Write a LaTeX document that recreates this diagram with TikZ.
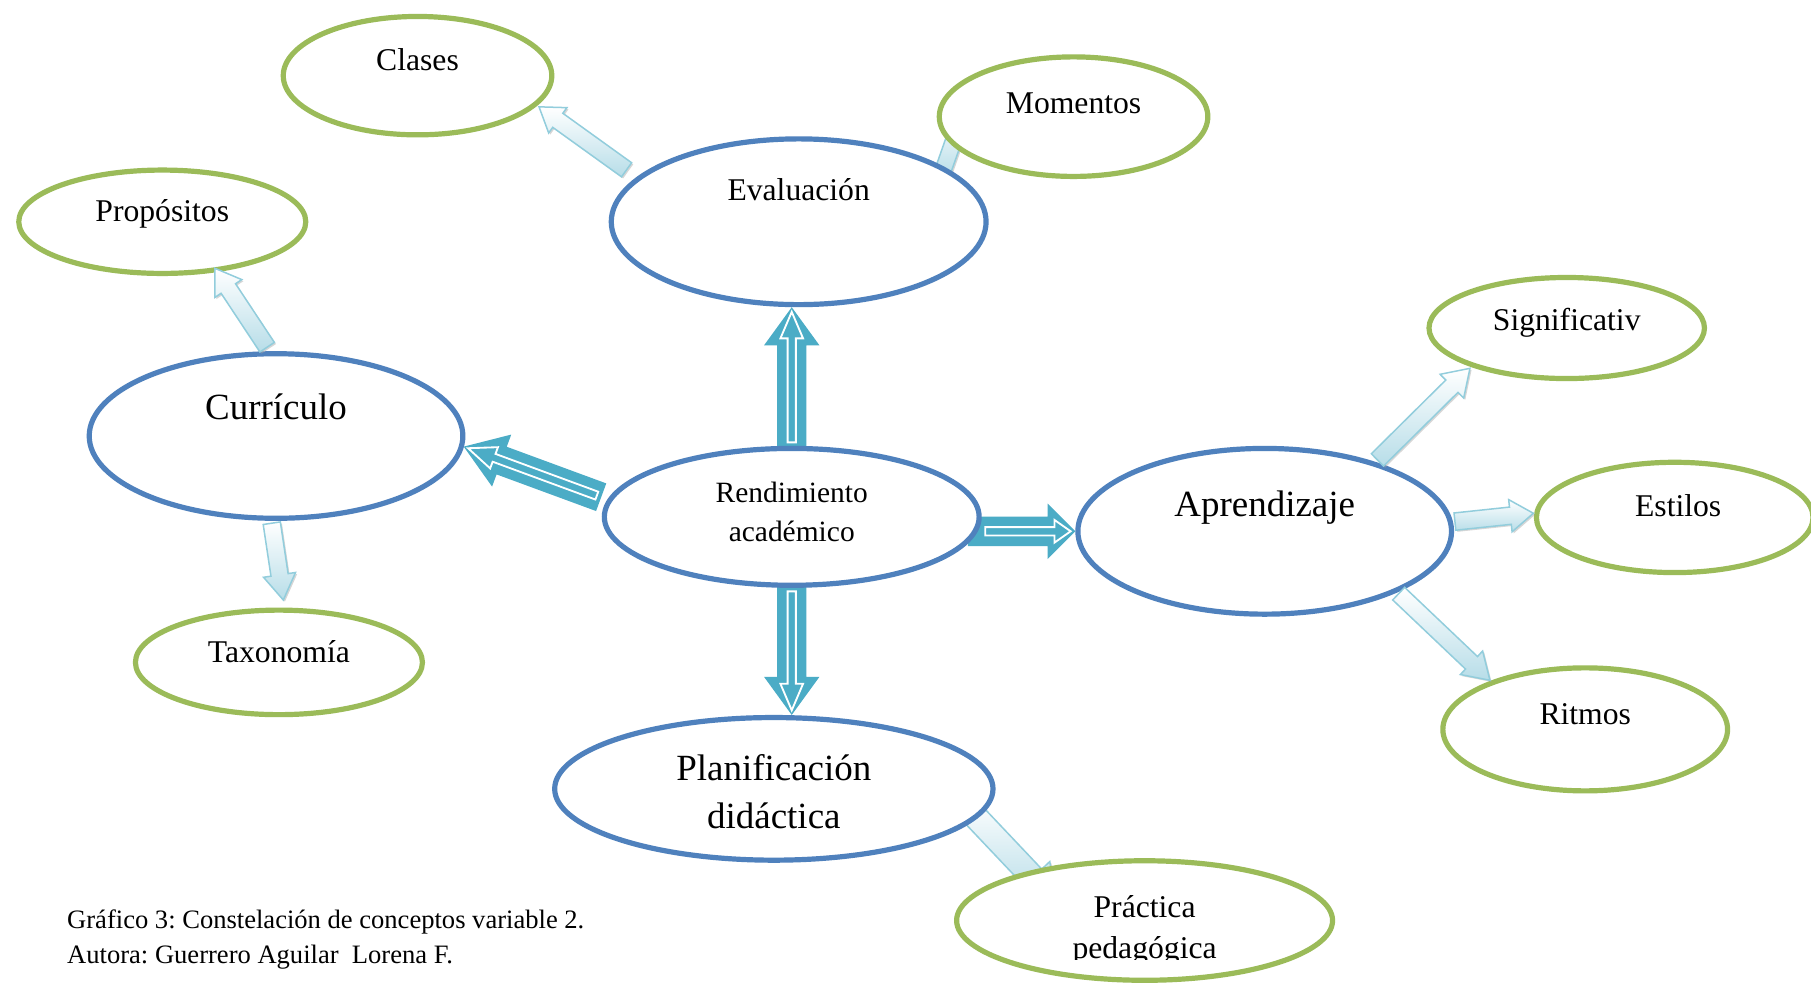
\documentclass[tikz,border=0pt]{standalone}
\usepackage{fontspec}
\setmainfont{Liberation Serif}
\frenchspacing
\usetikzlibrary{shapes.geometric,calc}
\definecolor{ringblue}{HTML}{4F81BD}
\definecolor{ringgreen}{HTML}{9BBB59}
\definecolor{boldteal}{HTML}{4BACC6}
\definecolor{paleedge}{HTML}{92CDDC}
\definecolor{palefill}{HTML}{B7DDE8}
\pgfdeclarelayer{paper}
\pgfdeclarelayer{back}
\pgfsetlayers{paper,back,main}

% block arrow: #1 style, #2 tail, #3 tip, #4 half shaft, #5 half head, #6 head length
\newcommand\arrowshape[6]{%
  \coordinate (as-t) at #2;
  \coordinate (as-p) at #3;
  \coordinate (as-b) at ($(as-p)!#6!(as-t)$);
  \path[#1] ($(as-t)!#4!90:(as-p)$) -- ($(as-b)!#4!-90:(as-t)$)
    -- ($(as-b)!#5!-90:(as-t)$) -- (as-p) -- ($(as-b)!#5!90:(as-t)$)
    -- ($(as-b)!#4!90:(as-t)$) -- ($(as-t)!#4!-90:(as-p)$) -- cycle;}

% bold teal arrow with a white outlined arrow inside
% #1 tail, #2 tip, #3 inset of inner tail, #4 head length, #5 inner head length
\newcommand\fatarrow[5]{%
  \coordinate (fa-t) at #1;
  \coordinate (fa-p) at #2;
  \arrowshape{fatbody}{(fa-t)}{(fa-p)}{12.75pt}{24pt}{#4}
  \arrowshape{fatline}{($(fa-t)!#3!(fa-p)$)}{($(fa-p)!4pt!(fa-t)$)}{3.6pt}{9.8pt}{#5}}

% pale shaded arrow with a soft grey shadow
% #1 tail, #2 tip, #3 half shaft, #4 half head, #5 head length
\newcommand\palearrow[5]{%
  \begin{scope}[transform canvas={shift={(1.4pt,-1.4pt)}}]
    \arrowshape{paleshadow}{#1}{#2}{#3}{#4}{#5}
  \end{scope}
  \arrowshape{palebody}{#1}{#2}{#3}{#4}{#5}}

\begin{document}
\begin{tikzpicture}[x=1pt,y=-1pt,
  bluering/.style={ellipse, draw=ringblue, line width=4.5pt, fill=white, inner sep=0pt},
  greenring/.style={ellipse, draw=ringgreen, line width=4.5pt, fill=white, inner sep=0pt},
  fatbody/.style={fill=boldteal},
  fatline/.style={draw=white, line width=1.6pt, line join=miter},
  palebody/.style={draw=paleedge, line width=1.3pt, top color=white, bottom color=palefill},
  paleshadow/.style={fill=gray!70, opacity=.45},
  smalltxt/.style={font=\fontsize{27.4}{33}\selectfont, anchor=base, inner sep=0pt},
  bigtxt/.style={font=\fontsize{32}{38}\selectfont, anchor=base, inner sep=0pt},
  midtxt/.style={font=\fontsize{25.5}{31}\selectfont, anchor=base, inner sep=0pt},
  captxt/.style={font=\fontsize{23}{28}\selectfont, anchor=base west, inner sep=0pt}]

\useasboundingbox (0,0) rectangle (1568,851);
\clip (0,0) rectangle (1568,851);
\begin{pgfonlayer}{paper}
  \fill[white] (0,0) rectangle (1568,851);
\end{pgfonlayer}

% concept rings
\node[greenring, minimum width=232.5pt, minimum height=102.5pt] (clases)     at (361.5,65.5) {};
\node[greenring, minimum width=232.5pt, minimum height=103.5pt] (momentos)   at (929.5,101) {};
\node[greenring, minimum width=248.5pt, minimum height=89.5pt]  (propositos) at (140.5,192) {};
\node[greenring, minimum width=238.5pt, minimum height=87.5pt]  (signif)     at (1356.5,284) {};
\node[greenring, minimum width=239.5pt, minimum height=95.5pt]  (estilos)    at (1450,448) {};
\node[greenring, minimum width=248.5pt, minimum height=90.5pt]  (taxo)       at (241.5,573.5) {};
\node[greenring, minimum width=246.5pt, minimum height=106.5pt] (ritmos)     at (1372.5,631.5) {};
\node[greenring, minimum width=325.5pt, minimum height=103.5pt] (practica)   at (991,797) {};

\node[bluering, minimum width=324.5pt, minimum height=143.5pt] (eval) at (691.5,192) {};
\node[bluering, minimum width=323.5pt, minimum height=142.5pt] (curr) at (239,377.5) {};
\node[bluering, minimum width=324.5pt, minimum height=118.5pt] (rend) at (685.5,447.5) {};
\node[bluering, minimum width=323.5pt, minimum height=143.5pt] (appr) at (1095,460) {};
\node[bluering, minimum width=379.5pt, minimum height=123.5pt] (plan) at (670,683) {};

% connectors lying under the rings
\begin{pgfonlayer}{back}
  \palearrow{($(eval)+(123.5,-40)$)}{($(momentos)+(-94.5,-6)$)}{7pt}{13pt}{20pt}
  \palearrow{($(plan)+(165,14)$)}{($(practica)+(-76,-15.5)$)}{10.5pt}{20pt}{30pt}
  \fatarrow{($(rend.north)+(0,8)$)}{(rend.north |- eval.south)}{11pt}{33pt}{23pt}
  \fatarrow{($(rend.south)+(0,-8)$)}{(rend.south |- plan.north)}{11pt}{33pt}{23pt}
  \fatarrow{($(rend)+(-165,-17)$)}{($(curr)+(162.5,9.2)$)}{4pt}{35pt}{24pt}
  \fatarrow{($(rend.east |- appr.west)+(-12,0)$)}{(appr.west)}{15pt}{24pt}{14pt}
\end{pgfonlayer}

% connectors lying over the rings
\palearrow{($(eval)+(-149,-45)$)}{($(clases)+(105.2,27)$)}{7.5pt}{13.5pt}{20pt}
\palearrow{($(curr)+(-7.7,-76.9)$)}{($(propositos)+(45.6,40.3)$)}{7.5pt}{14pt}{21pt}
\palearrow{($(curr)+(-3.7,75.5)$)}{($(taxo)+(3.8,-54)$)}{7.5pt}{14pt}{22pt}
\palearrow{($(appr)+(97.6,-61.8)$)}{($(signif)+(-83.8,34.9)$)}{7.5pt}{14.5pt}{22pt}
\palearrow{($(appr)+(164.7,-8.4)$)}{($(estilos)+(-122.4,-3.6)$)}{7.5pt}{14pt}{20pt}
\palearrow{($(appr)+(116,54)$)}{($(ritmos)+(-82.5,-42.5)$)}{7.5pt}{14pt}{22pt}

% labels
\node[smalltxt] (clases-t)     at (361.5,61)  {Clases};
\node[smalltxt] (momentos-t)   at (929.5,98)  {Momentos};
\node[smalltxt] (propositos-t) at (140.5,192) {Propósitos};
\node[smalltxt] (eval-t)       at (691.5,174) {Evaluación};
\node[smalltxt] (signif-t)     at (1356.5,286) {Significativ};
\node[smalltxt] (estilos-t)    at (1453,447)  {Estilos};
\node[smalltxt] (taxo-t)       at (241.5,574) {Taxonomía};
\node[smalltxt] (ritmos-t)     at (1372.5,627) {Ritmos};
\node[bigtxt]   (curr-t)       at (239,363.5) {Currículo};
\node[bigtxt]   (appr-t)       at (1095,447.5) {Aprendizaje};
\node[bigtxt]   (plan-t1)      at (670,675.5) {Planificación};
\node[bigtxt]   (plan-t2)      at (670,717.5) {didáctica};
\node[midtxt]   (rend-t1)      at (685.5,435.5) {Rendimiento};
\node[midtxt]   (rend-t2)      at (685.5,469) {académico};
\begin{scope}
  \clip (820,760) rectangle (1160,830.5);
  \node[smalltxt] (practica-t1) at (991,794) {Práctica};
  \node[smalltxt] (practica-t2) at (991,830) {pedagógica};
\end{scope}

% caption
\node[captxt] (cap1) at (58,803.6) {Gráfico 3: Constelación de conceptos variable 2.};
\node[captxt] (cap2) at (58,834.6) {Autora: Guerrero Aguilar\ \ Lorena F.};
\end{tikzpicture}
\end{document}
